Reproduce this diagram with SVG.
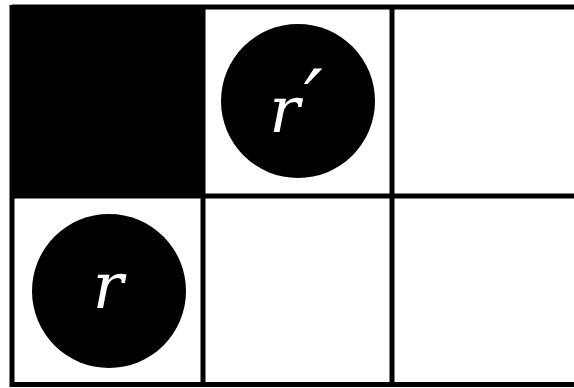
<svg xmlns="http://www.w3.org/2000/svg" width="574" height="388" viewBox="0 0 574 388">
<style>
.grid{stroke:#000;stroke-width:5;fill:none}
.tok{fill:#000}
.lbl{font-family:'DejaVu Serif',serif;font-style:italic;font-size:64px;fill:#fff;text-anchor:middle}
</style>
<rect width="574" height="388" fill="#fff"/>
<g id="cell-blocked"><rect x="10" y="5" width="195" height="192" fill="#000"/></g>
<g id="grid" class="grid">
<line x1="12" y1="7" x2="580" y2="7"/>
<line x1="12" y1="196" x2="580" y2="196"/>
<line x1="12" y1="384.5" x2="580" y2="384.5"/>
<line x1="12" y1="5" x2="12" y2="387"/>
<line x1="203" y1="5" x2="203" y2="387"/>
<line x1="392" y1="5" x2="392" y2="387"/>
</g>
<g id="node-rprime"><circle class="tok" cx="298" cy="101" r="77"/><text class="lbl" x="296" y="132">r<tspan dx="4" dy="-2" font-size="84">′</tspan></text></g>
<g id="node-r"><circle class="tok" cx="109" cy="291" r="77"/><text class="lbl" x="108" y="308">r</text></g>
</svg>
